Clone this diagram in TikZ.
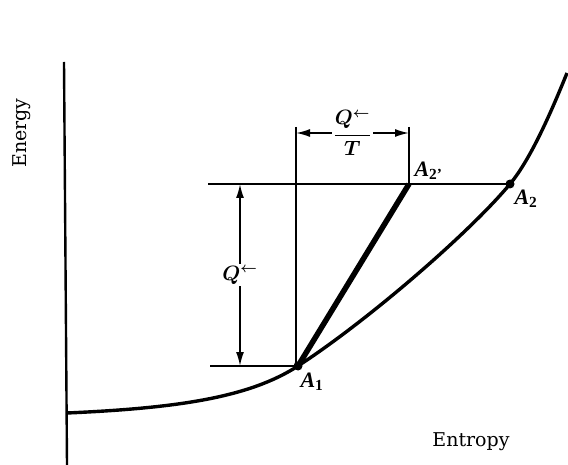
\documentclass[tikz,border=0pt]{standalone}
\usepackage{fontspec}
\setmainfont{Liberation Serif}
\newfontfamily\axisfont{DejaVu Serif}
\usepackage{tikz}
\usetikzlibrary{arrows.meta, positioning}

\tikzset{
  dimline/.style={line width=1.7pt, {Latex[length=14pt,width=8pt]}-{Latex[length=14pt,width=8pt]}},
  guide/.style={line width=1.7pt},
  statedot/.style={circle, fill, inner sep=0pt, minimum size=9pt},
  statelbl/.style={font=\fontsize{22}{22}\selectfont\bfseries\itshape},
  axislbl/.style={font=\axisfont\fontsize{19}{21}\selectfont},
  qlbl/.style={fill=white, inner sep=2pt, font=\fontsize{21}{23}\selectfont\boldmath}
}

\begin{document}
\begin{tikzpicture}[x=1pt, y=-1pt, every node/.style={font=\fontsize{21}{23}\selectfont}]
    \useasboundingbox (0,0) rectangle (568,465);
    % axis
    \coordinate (top) at (64,62);
    \coordinate (bot) at (67,465);
    \draw[line width=2.4pt] (top) -- (bot);
    \node[axislbl, rotate=90] (energy) at (22,133) {Energy};
    \node[axislbl] (entropy) at (471,442) {Entropy};
    % states
    \coordinate (A1) at (298,366);
    \coordinate (A2) at (510,184);
    \coordinate (A2p) at (409,184);
    % energy curve
    \coordinate (E0) at (67,413);
    \coordinate (E3) at (567,73);
    \draw[line width=3.4pt] (E0) .. controls (180,408) and (250,397) .. (A1)
      .. controls (370,319) and (470,232) .. (A2)
      .. controls (530,160) and (550,115) .. (E3);
    % guide lines
    \coordinate (hl1) at (208,184);
    \coordinate (hl0) at (210,366);
    \coordinate (vl1) at (296,127);
    \coordinate (vr1) at (409,127);
    \draw[guide] (hl1) -- (A2);
    \draw[guide] (hl0) -- (A1);
    \draw[guide] (vl1) -- (296,366);
    \draw[guide] (vr1) -- (A2p);
    % reversible path
    \draw[line width=5.5pt] (A1) -- (A2p);
    \node[statedot] (d1) at (A1) {};
    \node[statedot] (d2) at (A2) {};
    % dimensions
    \draw[dimline] (296,133) -- node[qlbl] (qt) {$\displaystyle\frac{Q^{\leftarrow}}{T}$} (409,133);
    \draw[dimline] (240,184) -- node[qlbl] (q) {$Q^{\leftarrow}$} (240,366);
    % labels
    \node[statelbl, anchor=south west] (l2p) at (411,183) {A\textsubscript{\upshape 2'}};
    \node[statelbl, anchor=north west] (l2) at (511,186) {A\textsubscript{\upshape 2}};
    \node[statelbl, anchor=north west] (l1) at (297,369) {A\textsubscript{\upshape 1}};
\end{tikzpicture}
\end{document}
